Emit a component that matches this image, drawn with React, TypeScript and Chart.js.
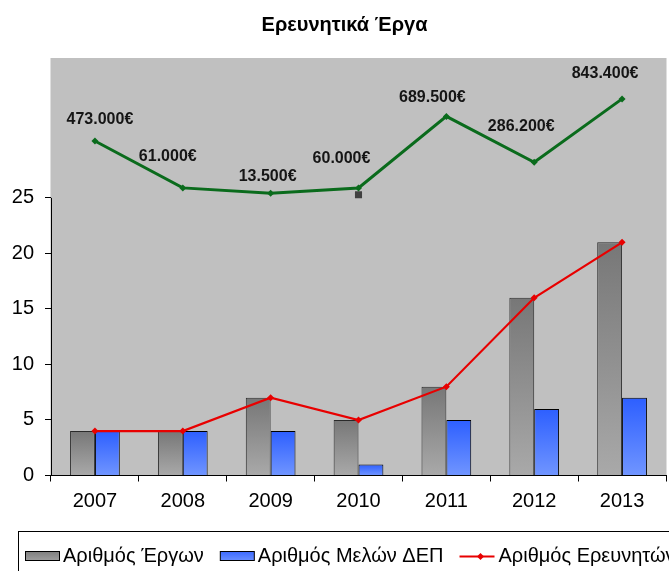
import React, { useEffect, useRef } from 'react';
import { Chart, registerables } from 'chart.js';

Chart.register(...registerables);

// ---- data ----
const years = ['2007', '2008', '2009', '2010', '2011', '2012', '2013'];
const projects = [4, 4, 7, 5, 8, 16, 21];
const members = [4, 4, 4, 1, 5, 6, 7];
const researchers = [4, 4, 7, 5, 8, 16, 21];
const funding = [473000, 61000, 13500, 60000, 689500, 286200, 843400];
const markerSeries = [null, null, null, 0, null, null, null];
const yTickValues = [0, 5, 10, 15, 20, 25];

const TITLE = 'Ερευνητικά Έργα';
const LBL_PROJECTS = 'Αριθμός Έργων';
const LBL_MEMBERS = 'Αριθμός Μελών ΔΕΠ';
const LBL_RESEARCHERS = 'Αριθμός Ερευνητών';
const LBL_FUNDING = 'Χρηματοδότηση';

// label placement (offset from point, px)
const labelOffsets = [[5, -21], [-15, -31], [-3, -17], [-17, -29], [-14, -19], [-13, -36], [-17, -25]];

const FONT = '"Liberation Sans", Arial, sans-serif';

const fmtEuro = (v: number) => String(v).replace(/\B(?=(\d{3})+(?!\d))/g, '.') + '€';

const GRAY_TOP = '#777777';
const GRAY_BOTTOM = '#a9a9a9';
const BLUE_TOP = '#2d5fff';
const BLUE_BOTTOM = '#7095ff';
const RED = '#e80000';
const GREEN = '#0a6b1c';

const barGradient = (top: string, bottom: string) => (ctx: any) => {
  const chart = ctx.chart;
  if (!chart.chartArea || ctx.type !== 'data') return top;
  const y = chart.scales.y;
  const y0 = y.getPixelForValue(0);
  const y1 = y.getPixelForValue(ctx.raw);
  if (!isFinite(y0) || !isFinite(y1) || Math.abs(y0 - y1) < 1) return top;
  const g = chart.ctx.createLinearGradient(0, y1, 0, y0);
  g.addColorStop(0, top);
  g.addColorStop(1, bottom);
  return g;
};

const plotBgPlugin = {
  id: 'plotBg',
  beforeDraw(chart: any) {
    const { ctx, chartArea } = chart;
    ctx.save();
    ctx.fillStyle = '#c0c0c0';
    ctx.fillRect(chartArea.left - 0.5, chartArea.top, chartArea.right - chartArea.left + 1, chartArea.bottom - chartArea.top);
    ctx.restore();
  },
};

const decorPlugin = {
  id: 'decor',
  afterDraw(chart: any) {
    const { ctx, scales } = chart;
    const y = scales.y;
    ctx.save();
    // title
    ctx.fillStyle = '#000';
    ctx.font = `bold 20px ${FONT}`;
    ctx.textAlign = 'center';
    ctx.textBaseline = 'middle';
    ctx.fillText(TITLE, 344.5, 25);

    // y axis line only over the ticked range
    const ax = Math.round(chart.chartArea.left) + 0.5;
    ctx.strokeStyle = '#000';
    ctx.lineWidth = 1;
    ctx.beginPath();
    ctx.moveTo(ax, y.getPixelForValue(yTickValues[yTickValues.length - 1]));
    ctx.lineTo(ax, y.getPixelForValue(0));
    ctx.stroke();

    // funding data labels
    const fIdx = chart.data.datasets.findIndex((d: any) => d.label === LBL_FUNDING);
    const meta = chart.getDatasetMeta(fIdx);
    ctx.font = `bold 16px ${FONT}`;
    ctx.fillStyle = '#151515';
    ctx.textAlign = 'center';
    ctx.textBaseline = 'middle';
    meta.data.forEach((pt: any, i: number) => {
      const [dx, dy] = labelOffsets[i];
      ctx.fillText(fmtEuro(funding[i]), pt.x + dx, pt.y + dy);
    });

    // legend
    ctx.strokeStyle = '#000';
    ctx.lineWidth = 1;
    ctx.strokeRect(18.5, 531.5, 1000, 100);
    ctx.font = `20px ${FONT}`;
    ctx.textAlign = 'left';
    ctx.textBaseline = 'alphabetic';
    let x = 25;
    chart.data.datasets.forEach((ds: any) => {
      if (ds.inLegend === false) return;
      if (ds.type === 'bar') {
        const g = ctx.createLinearGradient(0, 551, 0, 561);
        g.addColorStop(0, ds.legendTop);
        g.addColorStop(1, ds.legendBottom);
        ctx.fillStyle = g;
        ctx.fillRect(x + 0.5, 551.5, 34, 9);
        ctx.strokeStyle = '#000';
        ctx.strokeRect(x + 0.5, 551.5, 34, 9);
        x += 34 + 4;
      } else {
        ctx.strokeStyle = ds.borderColor;
        ctx.lineWidth = 2;
        ctx.beginPath();
        ctx.moveTo(x, 556.5);
        ctx.lineTo(x + 35, 556.5);
        ctx.stroke();
        ctx.lineWidth = 1;
        ctx.fillStyle = ds.borderColor;
        const cx = x + 21, cy = 556.5, r = 3.5;
        ctx.beginPath();
        ctx.moveTo(cx, cy - r);
        ctx.lineTo(cx + r, cy);
        ctx.lineTo(cx, cy + r);
        ctx.lineTo(cx - r, cy);
        ctx.closePath();
        ctx.fill();
        x += 35 + 4;
      }
      ctx.fillStyle = '#000';
      ctx.fillText(ds.label, x, 561.7);
      x += ctx.measureText(ds.label).width + 16;
    });
    ctx.restore();
  },
};

export default function App() {
  const ref = useRef<HTMLCanvasElement>(null);
  useEffect(() => {
    if (!ref.current) return;
    const chart = new Chart(ref.current, {
      type: 'bar',
      data: {
        labels: years,
        datasets: [
          {
            type: 'bar',
            label: LBL_PROJECTS,
            data: projects,
            yAxisID: 'y',
            backgroundColor: barGradient(GRAY_TOP, GRAY_BOTTOM),
            borderColor: '#2a2a2a',
            borderWidth: 1,
            order: 3,
            legendTop: '#7e7e7e',
            legendBottom: '#a0a0a0',
          } as any,
          {
            type: 'bar',
            label: LBL_MEMBERS,
            data: members,
            yAxisID: 'y',
            backgroundColor: barGradient(BLUE_TOP, BLUE_BOTTOM),
            borderColor: '#000',
            borderWidth: 1,
            order: 3,
            legendTop: '#3a68ff',
            legendBottom: '#6a8fff',
          } as any,
          {
            type: 'line',
            label: LBL_RESEARCHERS,
            data: researchers,
            yAxisID: 'y',
            borderColor: RED,
            backgroundColor: RED,
            borderWidth: 2.2,
            pointStyle: 'rectRot',
            pointRadius: 3.5,
            pointBorderWidth: 0,
            tension: 0,
            order: 1,
          } as any,
          {
            type: 'line',
            label: LBL_FUNDING,
            data: funding,
            yAxisID: 'y2',
            borderColor: GREEN,
            backgroundColor: GREEN,
            borderWidth: 3,
            pointStyle: 'rectRot',
            pointRadius: 3.5,
            pointBorderWidth: 0,
            tension: 0,
            order: 1,
          } as any,
          {
            type: 'line',
            label: 'marker',
            data: markerSeries,
            yAxisID: 'y2',
            showLine: false,
            borderColor: '#404040',
            backgroundColor: '#404040',
            pointStyle: 'rect',
            pointRadius: 5,
            pointBorderWidth: 0,
            order: 1,
            inLegend: false,
          } as any,
        ],
      },
      options: {
        responsive: false,
        devicePixelRatio: 1,
        animation: false,
        layout: { padding: { top: 58, bottom: 55.5, left: 0, right: 0 } },
        plugins: {
          legend: { display: false },
          title: { display: false },
          tooltip: { enabled: false },
        },
        datasets: {
          bar: { categoryPercentage: 0.566, barPercentage: 1 },
        },
        scales: {
          x: {
            offset: true,
            grid: {
              offset: true,
              drawOnChartArea: false,
              drawTicks: true,
              tickLength: 6,
              color: '#000',
            },
            border: { display: true, color: '#000', width: 1 },
            ticks: { color: '#000', font: { family: FONT, size: 20 }, padding: 8 },
            afterFit: (s: any) => { s.height = 40; },
          },
          y: {
            min: 0,
            max: 37.6,
            grid: { drawOnChartArea: false, drawTicks: true, tickLength: 6, color: '#000' },
            border: { display: false },
            ticks: { stepSize: 5, includeBounds: false, color: '#000', font: { family: FONT, size: 20 }, padding: 11 },
            afterBuildTicks: (s: any) => {
              s.ticks = yTickValues.map((v) => ({ value: v }));
            },
            afterFit: (s: any) => { s.width = 51; },
          },
          y2: {
            display: false,
            min: -2468000,
            max: 1203000,
          },
        },
      } as any,
      plugins: [plotBgPlugin, decorPlugin],
    });
    return () => chart.destroy();
  }, []);
  return (
    <div style={{ position: 'absolute', left: 0, top: 0, width: 669, height: 571, overflow: 'hidden', background: '#fff' }}>
      <canvas ref={ref} width={671} height={571} style={{ display: 'block', width: 671, height: 571 }} />
    </div>
  );
}
